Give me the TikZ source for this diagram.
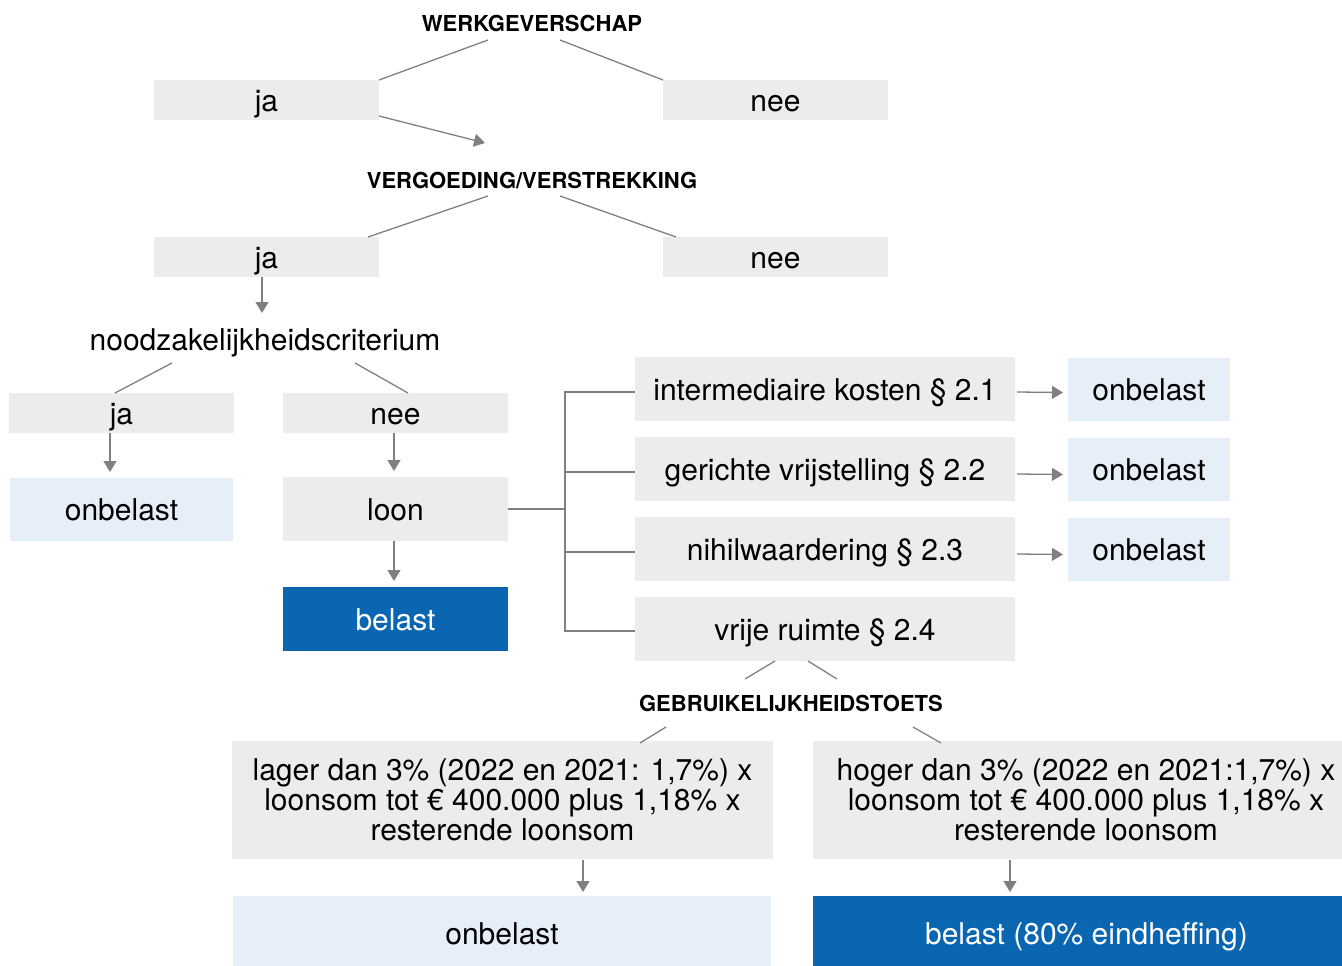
\documentclass[tikz,border=0pt]{standalone}
\usepackage{fontspec}
\setmainfont{TeX Gyre Heros}
\usetikzlibrary{arrows.meta}
\definecolor{boxgray}{HTML}{ECECEC}
\definecolor{lightblue}{HTML}{E6EEF7}
\definecolor{darkblue}{HTML}{0A66B0}
\definecolor{linegray}{HTML}{808080}
\tikzset{
  base/.style={inner sep=0pt, outer sep=0pt, font=\fontsize{30}{30}\selectfont, text=black},
  one/.style={text height=23pt, text depth=1pt},
  gbox/.style={base, fill=boxgray},
  lbox/.style={base, fill=lightblue},
  bbox/.style={base, fill=darkblue, text=white},
  head/.style={base, font=\bfseries\fontsize{22}{24}\selectfont},
  plain/.style={base},
  conn/.style={draw=linegray, line width=1.3pt},
  arr/.style={conn, -{Triangle[length=11pt, width=13pt]}, fill=linegray},
}
\begin{document}
\begin{tikzpicture}[x=1pt, y=-1pt]
\useasboundingbox (0,0) rectangle (1342,966);
% top level
\node[head] (werk) at (532,23) {WERKGEVERSCHAP};
\node[gbox, one, minimum width=225pt, minimum height=40pt] (ja1) at (266.5,100) {ja};
\node[gbox, one, minimum width=225pt, minimum height=40pt] (nee1) at (775.5,100) {nee};
\coordinate (w1) at (488,40);
\coordinate (w2) at (560,40);
\draw[conn] (w1) -- (ja1.north east);
\draw[conn] (w2) -- (nee1.north west);
\coordinate (vtip) at (485,143);
\draw[arr] ([yshift=4pt]ja1.south east) -- (vtip);
% second level
\node[head] (verg) at (532,181) {VERGOEDING/VERSTREKKING};
\node[gbox, one, minimum width=225pt, minimum height=40pt] (ja2) at (266.5,257) {ja};
\node[gbox, one, minimum width=225pt, minimum height=40pt] (nee2) at (775.5,257) {nee};
\coordinate (v1) at (488,196);
\coordinate (v2) at (560,196);
\coordinate (v1e) at (368,237);
\coordinate (v2e) at (676,237);
\draw[conn] (v1) -- (v1e);
\draw[conn] (v2) -- (v2e);
% noodzakelijkheid
\node[plain, one] (nood) at (265,339) {noodzakelijkheidscriterium};
\draw[arr] (ja2.south -| 262,0) -- ([yshift=14pt]nood.north -| 262,0);
\node[gbox, one, minimum width=225pt, minimum height=40pt] (ja3) at (121.5,413) {ja};
\node[gbox, one, minimum width=225pt, minimum height=40pt] (nee3) at (395.5,413) {nee};
\coordinate (n1) at (172,363);
\coordinate (n1e) at (115,393);
\coordinate (n2) at (355,363);
\coordinate (n2e) at (408,393);
\draw[conn] (n1) -- (n1e);
\draw[conn] (n2) -- (n2e);
\node[lbox, one, minimum width=223pt, minimum height=63pt] (onb0) at (121.5,509.5) {onbelast};
\node[gbox, one, minimum width=225pt, minimum height=64pt] (loon) at (395.5,509) {loon};
\node[bbox, one, minimum width=225pt, minimum height=64pt] (bel0) at (395.5,619) {belast};
\draw[arr] (ja3.south -| 110,0) -- ([yshift=6pt]onb0.north -| 110,0);
\draw[arr] (nee3.south -| 394,0) -- ([yshift=6pt]loon.north -| 394,0);
\draw[arr] (loon.south -| 394,0) -- ([yshift=6pt]bel0.north -| 394,0);
% right column
\node[gbox, one, minimum width=380pt, minimum height=64pt] (b1) at (825,389) {intermediaire kosten \S\ 2.1};
\node[gbox, one, minimum width=380pt, minimum height=64pt] (b2) at (825,469) {gerichte vrijstelling \S\ 2.2};
\node[gbox, one, minimum width=380pt, minimum height=64pt] (b3) at (825,549) {nihilwaardering \S\ 2.3};
\node[gbox, one, minimum width=380pt, minimum height=64pt] (b4) at (825,629) {vrije ruimte \S\ 2.4};
\node[lbox, one, minimum width=162pt, minimum height=63pt] (o1) at (1149,389.5) {onbelast};
\node[lbox, one, minimum width=162pt, minimum height=63pt] (o2) at (1149,469.5) {onbelast};
\node[lbox, one, minimum width=162pt, minimum height=63pt] (o3) at (1149,549.5) {onbelast};
\coordinate (bx) at (565,509);
\draw[conn] (loon.east) -- (bx);
\draw[conn] ([yshift=-3pt]b1.west) -- ([yshift=-3pt]b1.west -| bx) -- ([yshift=-2pt]b4.west -| bx) -- ([yshift=-2pt]b4.west);
\draw[conn] ([yshift=-3pt]b2.west) -- ([yshift=-3pt]b2.west -| bx);
\draw[conn] ([yshift=-3pt]b3.west) -- ([yshift=-3pt]b3.west -| bx);
\draw[arr] ([xshift=2pt,yshift=-3pt]b1.east) -- ([xshift=-5pt,yshift=-3pt]o1.west);
\draw[arr] ([xshift=2pt,yshift=-5pt]b2.east) -- ([xshift=-5pt,yshift=-5pt]o2.west);
\draw[arr] ([xshift=2pt,yshift=-5pt]b3.east) -- ([xshift=-5pt,yshift=-5pt]o3.west);
% gebruikelijkheidstoets
\node[head] (gebr) at (791,703) {GEBRUIKELIJKHEIDSTOETS};
\coordinate (g1) at (775,661);
\coordinate (g1e) at (745,679);
\coordinate (g2) at (808,661);
\coordinate (g2e) at (837,679);
\draw[conn] (g1) -- (g1e);
\draw[conn] (g2) -- (g2e);
\node[gbox, minimum width=541pt, minimum height=118pt, align=center] (lager) at (502.5,800) {lager dan 3\% (2022 en 2021: 1,7\%) x\\loonsom tot € 400.000 plus 1,18\% x\\resterende loonsom};
\node[gbox, minimum width=529pt, minimum height=118pt] (hoger) at (1077.5,800) {};
\node[base, align=center] (hogertxt) at (1086,800) {hoger dan 3\% (2022 en 2021:1,7\%) x\\loonsom tot € 400.000 plus 1,18\% x\\resterende loonsom};
\coordinate (h1) at (666,727);
\coordinate (h1e) at (640,743);
\coordinate (h2) at (913,727);
\coordinate (h2e) at (941,743);
\draw[conn] (h1) -- (h1e);
\draw[conn] (h2) -- (h2e);
\node[lbox, text height=27pt, text depth=0pt, minimum width=538pt, minimum height=70pt] (onb4) at (502,931) {onbelast};
\node[bbox, text height=27pt, text depth=0pt, minimum width=529pt, minimum height=70pt] (bel4) at (1077.5,931) {\hspace*{18pt}belast (80\% eindheffing)};
\draw[arr] ([yshift=-1pt]lager.south -| 583,0) -- ([yshift=4pt]onb4.north -| 583,0);
\draw[arr] ([yshift=-1pt]hoger.south -| 1010,0) -- ([yshift=4pt]bel4.north -| 1010,0);
\end{tikzpicture}
\end{document}
